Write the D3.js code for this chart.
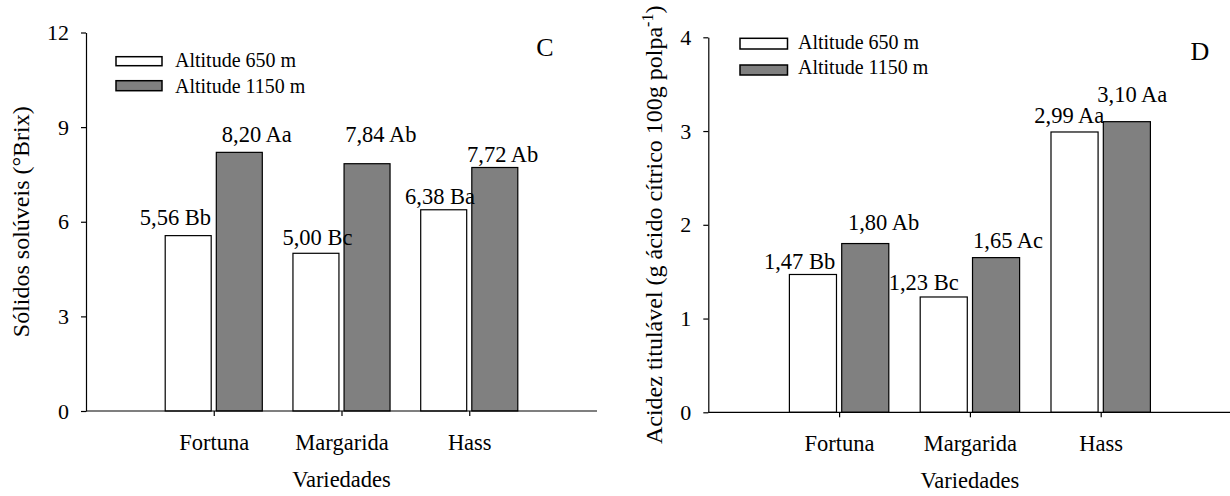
<!DOCTYPE html>
<html>
<head>
<meta charset="utf-8">
<script src="https://cdn.jsdelivr.net/npm/d3@7"></script>
<style>
  html, body { margin: 0; padding: 0; background: #fff; }
  svg { display: block; }
</style>
</head>
<body>
<svg id="chart" width="1230" height="496"></svg>
<script>
// ---- data ----
const categories = ["Fortuna", "Margarida", "Hass"];
const seriesNames = ["Altitude 650 m", "Altitude 1150 m"];
const brix650 = [5.56, 5.00, 6.38];
const brix1150 = [8.20, 7.84, 7.72];
const brixLetters650 = ["Bb", "Bc", "Ba"];
const brixLetters1150 = ["Aa", "Ab", "Ab"];
const acid650 = [1.47, 1.23, 2.99];
const acid1150 = [1.80, 1.65, 3.10];
const acidLetters650 = ["Bb", "Bc", "Aa"];
const acidLetters1150 = ["Ab", "Ac", "Aa"];
const brixTicks = [0, 3, 6, 9, 12];
const acidTicks = [0, 1, 2, 3, 4];

// ---- layout (pixels) ----
const FONT = "Liberation Serif, DejaVu Serif, serif";
const panels = [
  {
    id: "C", values: [brix650, brix1150], letters: [brixLetters650, brixLetters1150],
    ticks: brixTicks, yMax: 12,
    x0: 86, x1: 597, yTop: 32.5, yBottom: 411,
    yTitle: "Sólidos solúveis (°Brix)", yTitleX: 29,
    legend: { rx: 116, rw: 46, ry: [56.7, 80.7], rh: [9, 10], tx: 175, ty: [67.3, 92.7] },
    letter: { x: 545, y: 56 },
    nudges: [[[-12.8, 10.6], [1.5, 8.3], [-3.7, 5.8]], [[17.5, 10.7], [13.8, 22], [7.9, 5.2]]]
  },
  {
    id: "D", values: [acid650, acid1150], letters: [acidLetters650, acidLetters1150],
    ticks: acidTicks, yMax: 4,
    x0: 708.3, x1: 1231.5, yTop: 37.3, yBottom: 412.3,
    yTitle: null, yTitleX: 662,
    legend: { rx: 740, rw: 47.5, ry: [38.3, 65], rh: [10.7, 10], tx: 798, ty: [49.3, 74] },
    letter: { x: 1200, y: 60 },
    nudges: [[[-13.4, 5.2], [-20, 7], [-5.2, 8.7]], [[18.3, 13.6], [12, 9.3], [5.5, 20]]]
  }
];

const fills = ["#ffffff", "#808080"];
const fmt = v => d3.format(".2f")(v).replace(".", ",");

const svg = d3.select("#chart").attr("font-family", FONT);

panels.forEach(p => {
  const g = svg.append("g");
  const x = d3.scalePoint().domain(categories).range([p.x0, p.x1]).padding(1);
  const y = d3.scaleLinear().domain([0, p.yMax]).range([p.yBottom, p.yTop]);
  const step = x.step();
  const bw = step * 0.36, gap = step * 0.04;

  p.values.forEach((vals, si) => {
    g.selectAll(null).data(vals).enter().append("rect")
      .attr("x", (d, i) => si === 0 ? x(categories[i]) - gap / 2 - bw : x(categories[i]) + gap / 2)
      .attr("y", d => y(d))
      .attr("width", bw)
      .attr("height", d => y(0) - y(d))
      .attr("fill", fills[si])
      .attr("stroke", "#000")
      .attr("stroke-width", 1.2);
  });

  p.values.forEach((vals, si) => {
    g.selectAll(null).data(vals).enter().append("text")
      .attr("x", (d, i) => {
        const cx = si === 0 ? x(categories[i]) - gap / 2 - bw / 2 : x(categories[i]) + gap / 2 + bw / 2;
        return cx + p.nudges[si][i][0];
      })
      .attr("y", (d, i) => y(d) - p.nudges[si][i][1])
      .attr("text-anchor", "middle")
      .attr("font-family", FONT)
      .attr("font-size", 22.5)
      .text((d, i) => fmt(d) + " " + p.letters[si][i]);
  });

  const ya = g.append("g").attr("transform", `translate(${p.x0},0)`)
    .call(d3.axisLeft(y).tickValues(p.ticks).tickSize(5).tickSizeOuter(0).tickPadding(12).tickFormat(d3.format("d")));
  ya.attr("font-family", FONT).attr("font-size", 22);
  ya.selectAll("path,line").attr("stroke", "#000").attr("stroke-width", 1.2);

  const xa = g.append("g").attr("transform", `translate(0,${p.yBottom})`)
    .call(d3.axisBottom(x).tickSize(5).tickSizeOuter(0));
  xa.attr("font-family", FONT).attr("font-size", 22.5);
  xa.select(".domain").attr("d", `M${p.x0},0H${p.x1}`);
  xa.selectAll("path,line").attr("stroke", "#000").attr("stroke-width", 1.2);
  xa.selectAll("text").attr("y", 39).attr("dy", 0);

  g.append("text")
    .attr("x", x(categories[1])).attr("y", p.yBottom + 76)
    .attr("text-anchor", "middle").attr("font-family", FONT).attr("font-size", 22.5)
    .text("Variedades");

  const yt = g.append("text")
    .attr("transform", `translate(${p.yTitleX},${(p.yTop + p.yBottom) / 2}) rotate(-90)`)
    .attr("text-anchor", "middle").attr("font-family", FONT).attr("font-size", 24);
  if (p.yTitle) {
    yt.text(p.yTitle);
  } else {
    yt.append("tspan").text("Acidez titulável (g ácido cítrico 100g polpa");
    yt.append("tspan").attr("dy", -9).attr("font-size", 16).text("-1");
    yt.append("tspan").attr("dy", 9).text(")");
  }

  seriesNames.forEach((s, i) => {
    g.append("rect")
      .attr("x", p.legend.rx).attr("y", p.legend.ry[i])
      .attr("width", p.legend.rw).attr("height", p.legend.rh[i])
      .attr("fill", fills[i]).attr("stroke", "#000").attr("stroke-width", 1.5);
    g.append("text")
      .attr("x", p.legend.tx).attr("y", p.legend.ty[i])
      .attr("font-family", FONT).attr("font-size", 20).text(s);
  });

  g.append("text").attr("x", p.letter.x).attr("y", p.letter.y)
    .attr("text-anchor", "middle").attr("font-family", FONT).attr("font-size", 26).text(p.id);
});
</script>
</body>
</html>
